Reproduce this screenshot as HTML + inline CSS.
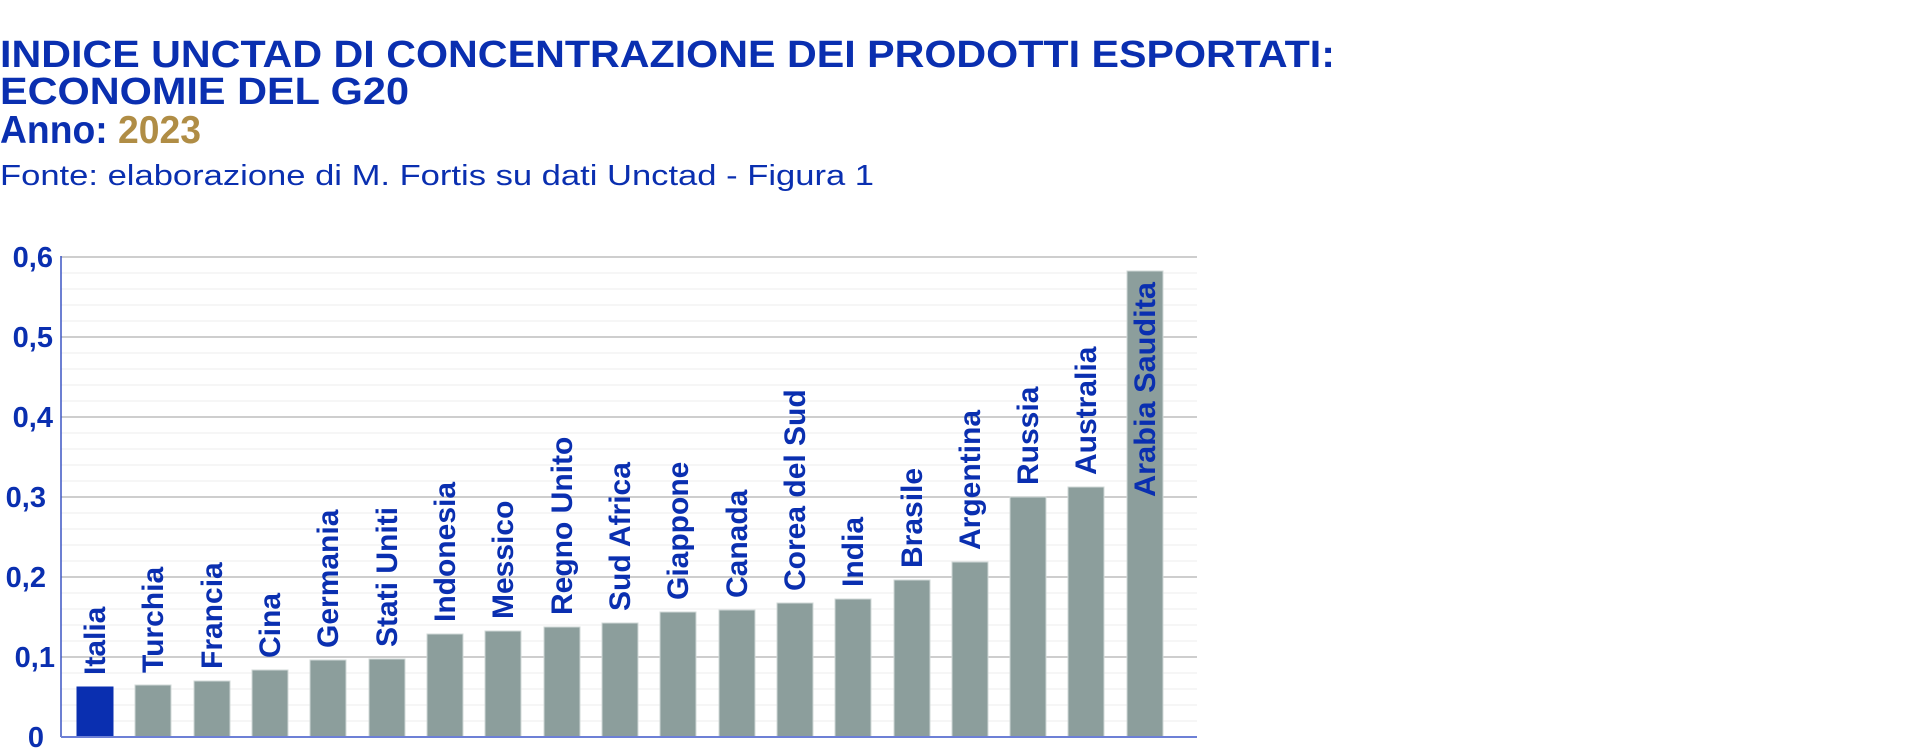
<!DOCTYPE html>
<html><head><meta charset="utf-8"><style>
html,body{margin:0;padding:0;background:#fff;width:1920px;height:753px;overflow:hidden}
svg{display:block}
text{font-family:"Liberation Sans",Arial,sans-serif}
</style></head><body>
<svg width="1920" height="753" viewBox="0 0 1920 753" xmlns="http://www.w3.org/2000/svg">
<g fill="#0a2fb0" font-weight="bold">
<text x="0" y="67" font-size="38" textLength="1335" lengthAdjust="spacingAndGlyphs">INDICE UNCTAD DI CONCENTRAZIONE DEI PRODOTTI ESPORTATI:</text>
<text x="0" y="104" font-size="38" textLength="409" lengthAdjust="spacingAndGlyphs">ECONOMIE DEL G20</text>
<text x="0" y="143" font-size="39" textLength="201" lengthAdjust="spacingAndGlyphs">Anno: <tspan fill="#b08d45">2023</tspan></text>
</g>
<text x="0" y="185" font-size="29" fill="#0a2fb0" textLength="874" lengthAdjust="spacingAndGlyphs">Fonte: elaborazione di M. Fortis su dati Unctad - Figura 1</text>
<g stroke="#ececec" stroke-width="1">
<line x1="61" x2="1197" y1="273" y2="273"/><line x1="61" x2="1197" y1="289" y2="289"/><line x1="61" x2="1197" y1="305" y2="305"/><line x1="61" x2="1197" y1="321" y2="321"/>
<line x1="61" x2="1197" y1="353" y2="353"/><line x1="61" x2="1197" y1="369" y2="369"/><line x1="61" x2="1197" y1="385" y2="385"/><line x1="61" x2="1197" y1="401" y2="401"/>
<line x1="61" x2="1197" y1="433" y2="433"/><line x1="61" x2="1197" y1="449" y2="449"/><line x1="61" x2="1197" y1="465" y2="465"/><line x1="61" x2="1197" y1="481" y2="481"/>
<line x1="61" x2="1197" y1="513" y2="513"/><line x1="61" x2="1197" y1="529" y2="529"/><line x1="61" x2="1197" y1="545" y2="545"/><line x1="61" x2="1197" y1="561" y2="561"/>
<line x1="61" x2="1197" y1="593" y2="593"/><line x1="61" x2="1197" y1="609" y2="609"/><line x1="61" x2="1197" y1="625" y2="625"/><line x1="61" x2="1197" y1="641" y2="641"/>
<line x1="61" x2="1197" y1="673" y2="673"/><line x1="61" x2="1197" y1="689" y2="689"/><line x1="61" x2="1197" y1="705" y2="705"/><line x1="61" x2="1197" y1="721" y2="721"/>
</g>
<g stroke="#bdbdbd" stroke-width="1.5">
<line x1="61" x2="1197" y1="257" y2="257"/><line x1="61" x2="1197" y1="337" y2="337"/><line x1="61" x2="1197" y1="417" y2="417"/>
<line x1="61" x2="1197" y1="497" y2="497"/><line x1="61" x2="1197" y1="577" y2="577"/><line x1="61" x2="1197" y1="657" y2="657"/>
</g>
<g fill="#0a2fb0" font-weight="bold" font-size="29" text-anchor="end">
<text x="53" y="267">0,6</text><text x="53" y="347">0,5</text><text x="53" y="427">0,4</text>
<text x="46" y="507">0,3</text><text x="46" y="587">0,2</text><text x="55" y="667">0,1</text><text x="44" y="747">0</text>
</g>
<g fill="#8c9e9c" stroke="#d0d8d7" stroke-width="1">
<rect x="77" y="687" width="36" height="50" fill="#0a2fb0" stroke="#0a2fb0"/>
<rect x="135" y="685" width="36" height="52"/>
<rect x="194" y="681" width="36" height="56"/>
<rect x="252" y="670" width="36" height="67"/>
<rect x="310" y="660" width="36" height="77"/>
<rect x="369" y="659" width="36" height="78"/>
<rect x="427" y="634" width="36" height="103"/>
<rect x="485" y="631" width="36" height="106"/>
<rect x="544" y="627" width="36" height="110"/>
<rect x="602" y="623" width="36" height="114"/>
<rect x="660" y="612" width="36" height="125"/>
<rect x="719" y="610" width="36" height="127"/>
<rect x="777" y="603" width="36" height="134"/>
<rect x="835" y="599" width="36" height="138"/>
<rect x="894" y="580" width="36" height="157"/>
<rect x="952" y="562" width="36" height="175"/>
<rect x="1010" y="497" width="36" height="240"/>
<rect x="1068" y="487" width="36" height="250"/>
<rect x="1127" y="271" width="36" height="466"/>
</g>
<line x1="61" x2="61" y1="256" y2="737" stroke="#3b55c4" stroke-width="1.5"/>
<line x1="61" x2="1197" y1="737" y2="737" stroke="#6d80d6" stroke-width="2"/>
<g fill="#0a2fb0" font-weight="bold" font-size="30">
<text transform="translate(105,675) rotate(-90)">Italia</text>
<text transform="translate(163,673) rotate(-90)">Turchia</text>
<text transform="translate(222,669) rotate(-90)">Francia</text>
<text transform="translate(280,658) rotate(-90)">Cina</text>
<text transform="translate(338,648) rotate(-90)">Germania</text>
<text transform="translate(397,647) rotate(-90)">Stati Uniti</text>
<text transform="translate(455,622) rotate(-90)">Indonesia</text>
<text transform="translate(513,619) rotate(-90)">Messico</text>
<text transform="translate(572,615) rotate(-90)">Regno Unito</text>
<text transform="translate(630,611) rotate(-90)">Sud Africa</text>
<text transform="translate(688,600) rotate(-90)">Giappone</text>
<text transform="translate(747,598) rotate(-90)">Canada</text>
<text transform="translate(805,591) rotate(-90)">Corea del Sud</text>
<text transform="translate(863,587) rotate(-90)">India</text>
<text transform="translate(922,568) rotate(-90)">Brasile</text>
<text transform="translate(980,550) rotate(-90)">Argentina</text>
<text transform="translate(1038,485) rotate(-90)">Russia</text>
<text transform="translate(1096,475) rotate(-90)">Australia</text>
<text transform="translate(1155,497) rotate(-90)" textLength="215" lengthAdjust="spacingAndGlyphs">Arabia Saudita</text>
</g>
</svg>
</body></html>
